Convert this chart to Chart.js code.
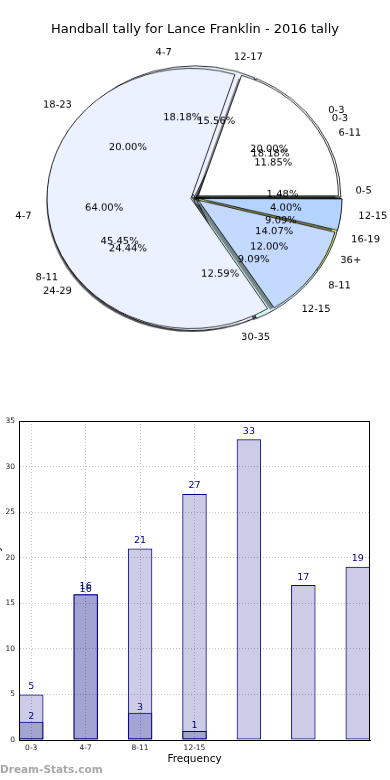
<!DOCTYPE html>
<html>
<head>
<meta charset="utf-8">
<script src="https://cdn.jsdelivr.net/npm/chart.js@4.4.0/dist/chart.umd.min.js"></script>
<style>
body { margin: 0; background: #fff; }
#page { position: relative; width: 390px; height: 780px; overflow: hidden; }
#barChart { position: absolute; left: 0; top: 0; }
#pies { position: absolute; left: 0; top: 28px; width: 390px; height: 340px;
        transform: scaleY(0.904); transform-origin: 195px 170px; }
#pies canvas { position: absolute; left: 0; top: 0; }
</style>
</head>
<body>
<div id="page">
  <canvas id="barChart" width="390" height="780"></canvas>
  <div id="pies">
    <canvas id="pieAge" width="390" height="340"></canvas>
    <canvas id="pieQtr" width="390" height="340"></canvas>
    <canvas id="pieMin" width="390" height="340"></canvas>
  </div>
</div>
<script>
// pie 1 - by age group
const ageLabels = ['0-5', '6-11', '12-17', '18-23', '24-29', '30-35', '36+'];
const ageValues = [2, 16, 21, 27, 33, 17, 19];
// pie 2 - by quarter
const qtrLabels = ['0-3', '4-7', '8-11', '12-15', '16-19'];
const qtrValues = [2, 2, 5, 1, 1];
// pie 3 - by minutes
const minLabels = ['0-3', '4-7', '8-11', '12-15'];
const minValues = [5, 16, 3, 1];

// bar chart
const barTickLabels = ['0-3', '4-7', '8-11', '12-15'];
const barTotals = [5, 16, 21, 27, 33, 17, 19];
const barGoals = [2, 16, 3, 1];

const chartTitle = 'Handball tally for Lance Franklin - 2016 tally';
const FONT = '"DejaVu Sans", sans-serif';
const SQUASH = 0.904;   // pie is drawn as an ellipse

const pieCharts = [];

const pieShadow = {
    id: 'pieShadow',
    beforeDatasetsDraw(chart) {
        const ctx = chart.ctx;
        const meta = chart.getDatasetMeta(0);
        ctx.save();
        ctx.fillStyle = 'rgba(0,0,0,0.45)';
        meta.data.forEach((arc) => {
            const p = arc.getProps(['x', 'y', 'startAngle', 'endAngle', 'outerRadius'], true);
            const mid = (p.startAngle + p.endAngle) / 2;
            const sh = (arc.options.offset || 0) / 4;
            const cx = p.x + Math.cos(mid) * sh - 3;
            const cy = p.y + Math.sin(mid) * sh + 3;
            ctx.beginPath();
            ctx.moveTo(cx, cy);
            ctx.arc(cx, cy, p.outerRadius, p.startAngle, p.endAngle);
            ctx.closePath();
            ctx.fill();
        });
        ctx.restore();
    }
};

function squashedText(ctx, txt, x, y, align) {
    ctx.save();
    ctx.translate(x, y);
    ctx.scale(1, 1 / SQUASH);
    ctx.textAlign = align;
    ctx.fillText(txt, 0, 0);
    ctx.restore();
}

// all pie texts go on the top canvas, like matplotlib puts text above every wedge
const pieTexts = {
    id: 'pieTexts',
    afterDraw(chart) {
        const ctx = chart.ctx;
        const list = pieCharts.includes(chart) ? pieCharts : pieCharts.concat([chart]);
        ctx.save();
        ctx.font = '10px ' + FONT;
        ctx.fillStyle = '#000';
        ctx.textBaseline = 'middle';
        list.forEach((pc) => {
            const meta = pc.getDatasetMeta(0);
            const values = pc.data.datasets[0].data;
            const total = values.reduce((a, b) => a + b, 0);
            meta.data.forEach((arc, i) => {
                const p = arc.getProps(['x', 'y', 'startAngle', 'endAngle', 'outerRadius'], true);
                const mid = (p.startAngle + p.endAngle) / 2;
                const sh = (arc.options.offset || 0) / 4;
                const c = Math.cos(mid), s = Math.sin(mid);
                const cx = p.x + c * sh, cy = p.y + s * sh;
                const r = 146;
                squashedText(ctx, pc.data.labels[i], cx + c * 1.1 * r, cy + s * 1.1 * r, c >= 0 ? 'left' : 'right');
                const pct = (values[i] / total * 100).toFixed(2) + '%';
                squashedText(ctx, pct, cx + c * 0.6 * r, cy + s * 0.6 * r, 'center');
            });
        });
        ctx.restore();
    }
};

function pieConfig(labels, values, colors, radius, offset, extra) {
    return {
        type: 'pie',
        data: {
            labels: labels.slice().reverse(),
            datasets: [{
                data: values.slice().reverse(),
                backgroundColor: colors.slice().reverse(),
                borderColor: '#000',
                borderWidth: 0.8,
                offset: offset,
                radius: radius,
                rotation: 90
            }]
        },
        options: {
            responsive: false,
            animation: false,
            devicePixelRatio: 1,
            plugins: { legend: { display: false }, tooltip: { enabled: false } }
        },
        plugins: extra
    };
}

pieCharts.push(new Chart(document.getElementById('pieAge'),
    pieConfig(ageLabels, ageValues,
        ['#ffffff', '#ffffff', '#ebf1fe', '#ebf1fe', '#ebf1fe', '#d5f6f6', '#c4d9fe'],
        145, 0, [pieShadow])));
pieCharts.push(new Chart(document.getElementById('pieQtr'),
    pieConfig(qtrLabels, qtrValues,
        ['#ffffff', '#ebf1fe', '#ebf1fe', '#d5f6f6', '#e6ee86'],
        144, 8, [pieShadow])));
pieCharts.push(new Chart(document.getElementById('pieMin'),
    pieConfig(minLabels, minValues,
        ['#ffffff', '#ebf1fe', '#c4d9fe', '#b4d4ff'],
        140, 16, [pieShadow, pieTexts])));

// ---------- bar chart ----------
const barW = 0.45;
const tickPos = barTickLabels.map((l, i) => i + barW / 2);

const barDecor = {
    id: 'barDecor',
    afterDatasetsDraw(chart) {
        const ctx = chart.ctx;
        ctx.save();
        ctx.font = '9.5px ' + FONT;
        ctx.fillStyle = '#000080';
        ctx.textAlign = 'center';
        ctx.textBaseline = 'middle';
        chart.data.datasets.forEach((ds, di) => {
            chart.getDatasetMeta(di).data.forEach((bar, i) => {
                const v = ds.data[i].y;
                ctx.fillText(String(v), bar.x, bar.y - (di === 0 ? 5 : 8));
            });
        });
        ctx.restore();
    },
    afterDraw(chart) {
        const ctx = chart.ctx;
        const a = chart.chartArea;
        ctx.save();
        ctx.strokeStyle = '#000';
        ctx.lineWidth = 1;
        ctx.strokeRect(Math.round(a.left) + 0.5, Math.round(a.top) + 0.5,
            Math.round(a.right - a.left) - 1, Math.round(a.bottom - a.top));
        ctx.fillStyle = '#000';
        ctx.font = '13px ' + FONT;
        ctx.textAlign = 'center';
        ctx.textBaseline = 'middle';
        ctx.fillText(chartTitle, 195, 30);
        ctx.fillStyle = '#a8a8a8';
        ctx.font = 'bold 10.5px ' + FONT;
        ctx.textAlign = 'left';
        ctx.fillText('Dream-Stats.com', 0, 770);
        ctx.translate(-3, (a.top + a.bottom) / 2);
        ctx.rotate(-Math.PI / 2);
        ctx.fillStyle = '#000';
        ctx.font = '10px ' + FONT;
        ctx.textAlign = 'center';
        ctx.fillText('Handball Tally', 0, 0);
        ctx.restore();
    }
};

new Chart(document.getElementById('barChart'), {
    type: 'bar',
    data: {
        datasets: [{
            label: 'Goals',
            data: barGoals.map((v, i) => ({ x: i + barW / 2, y: v })),
            backgroundColor: 'rgba(0,0,128,0.2)',
            borderColor: '#000080',
            borderWidth: 1,
            borderSkipped: false,
            grouped: false,
            barPercentage: barW,
            categoryPercentage: 1
        }, {
            label: 'Tally',
            data: barTotals.map((v, i) => ({ x: i + barW / 2, y: v })),
            backgroundColor: 'rgba(0,0,128,0.2)',
            borderColor: '#000080',
            borderWidth: 1,
            borderSkipped: false,
            grouped: false,
            barPercentage: barW,
            categoryPercentage: 1
        }]
    },
    options: {
        responsive: false,
        animation: false,
        devicePixelRatio: 1,
        layout: { padding: { top: 421, right: 20, left: 0, bottom: 0 } },
        plugins: { legend: { display: false }, tooltip: { enabled: false } },
        scales: {
            x: {
                type: 'linear',
                min: 0,
                max: barTotals.length - 1 + barW,
                offset: false,
                afterBuildTicks: (s) => { s.ticks = tickPos.map((v) => ({ value: v })); },
                afterFit: (s) => { s.height = 40; },
                ticks: {
                    callback: (v, i) => barTickLabels[i],
                    font: { size: 7.5, family: FONT },
                    color: '#222',
                    padding: 4,
                    maxRotation: 0
                },
                grid: { color: '#c4c4c4', offset: false, drawTicks: false },
                border: { color: '#000', dash: [1, 2] },
                title: {
                    display: true,
                    text: 'Frequency',
                    font: { size: 10.5, family: FONT },
                    color: '#000',
                    padding: { top: 0, bottom: 14 }
                }
            },
            y: {
                min: 0,
                max: 35,
                afterFit: (s) => { s.width = 19; },
                ticks: { stepSize: 5, font: { size: 7.5, family: FONT }, color: '#222', padding: 4 },
                grid: { color: '#c4c4c4', drawTicks: false },
                border: { color: '#000', dash: [1, 2] }
            }
        }
    },
    plugins: [barDecor]
});
</script>
</body>
</html>
